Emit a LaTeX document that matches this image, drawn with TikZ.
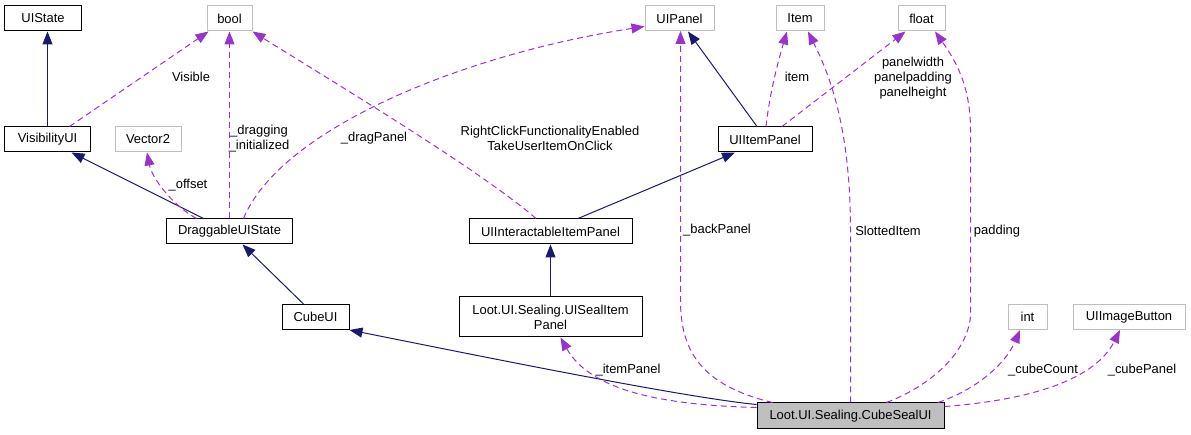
\documentclass[tikz,border=0pt]{standalone}
\usepackage{fontspec}
\setmainfont{Liberation Sans}
\usetikzlibrary{arrows.meta}

\definecolor{inhblue}{HTML}{191970}
\definecolor{usepurple}{HTML}{9A32CD}
\definecolor{boxgray}{HTML}{BFBFBF}

\begin{document}
\begin{tikzpicture}[x=1bp, y=-1bp,
		every node/.style={font=\fontsize{13}{15}\selectfont},
		cls/.style={draw=black, line width=1bp, minimum height=25bp, inner sep=0pt},
		ext/.style={draw=boxgray, line width=1bp, minimum height=25bp, inner sep=0pt},
		inherit/.style={draw=inhblue, line width=1bp, -{Triangle[length=13bp,width=10bp]}},
		uses/.style={draw=usepurple, line width=1bp, dash pattern=on 6bp off 4bp, -{Triangle[length=13bp,width=10bp]}},
		lbl/.style={align=center, inner sep=0pt}]
		\useasboundingbox (0,0) rectangle (1191,435);
		
		% top row
		\node[cls, minimum width=76bp] (uistate) at (43,18.5) {UIState};
		\node[ext, minimum width=45bp] (bool) at (229.5,18.5) {bool};
		\node[ext, minimum width=69bp] (uipanel) at (679.5,18.5) {UIPanel};
		\node[ext, minimum width=48bp] (item) at (800,18.5) {Item};
		\node[ext, minimum width=47bp] (float) at (921.5,18.5) {float};
		
		\node[cls, minimum width=85bp] (vis) at (47.5,139.5) {VisibilityUI};
		\node[ext, minimum width=66bp] (vector2) at (148,139.5) {Vector2};
		\node[cls, minimum width=94bp] (itempanel) at (765,139.5) {UIItemPanel};
		
		\node[cls, minimum width=126bp] (drag) at (229.5,231.5) {DraggableUIState};
		\node[cls, minimum width=163bp] (interact) at (550.5,231.5) {UIInteractableItemPanel};
		
		\node[cls, minimum width=67bp] (cubeui) at (315.5,317) {CubeUI};
		\node[cls, minimum width=183bp, minimum height=40bp, align=center] (sealitem) at (550.5,317) {Loot.UI.Sealing.UISealItem\\Panel};
		\node[ext, minimum width=39bp] (int) at (1027.5,317) {int};
		\node[ext, minimum width=112bp] (button) at (1129,317) {UIImageButton};
		
		% the class itself
		\node[cls, fill=boxgray, minimum width=187bp, minimum height=26bp] (seal) at (850.5,416) {Loot.UI.Sealing.CubeSealUI};
		
		% inheritance
		\draw[inherit] (vis.north) -- (vis.north |- uistate.south);
		\draw[inherit] ([xshift=-26bp]drag.north) -- ([xshift=24bp]vis.south);
		\draw[inherit] ([xshift=-12bp]cubeui.north) -- ([xshift=13bp]drag.south);
		\draw[inherit] ([yshift=-2bp]seal.north west) .. controls (680,397) and (470,354) .. (cubeui.south east);
		\draw[inherit] (sealitem) -- (interact);
		\draw[inherit] ([xshift=27.5bp]interact.north) -- ([xshift=-30bp]itempanel.south);
		\draw[inherit] ([xshift=-8bp]itempanel.north) -- ([xshift=8.5bp]uipanel.south);
		
		% members
		\draw[uses] ([xshift=22bp]vis.north) -- ([xshift=2bp]bool.south west);
		\node[lbl] (lvisible) at (191,77) {Visible};
		
		\draw[uses] ([xshift=-33bp]drag.north) .. controls (172,205) and (152,178) .. ([xshift=-1bp]vector2.south);
		\node[lbl] (loffset) at (188,185) {\_offset};
		
		\draw[uses] (drag.north) -- (bool.south);
		\node[lbl] (ldragging) at (259,139) {\_dragging\\\_initialized};
		
		\draw[uses] ([xshift=14bp]drag.north) .. controls (280,130) and (460,55) .. ([yshift=-8bp]uipanel.west);
		\node[lbl] (ldragpanel) at (374,138) {\_dragPanel};
		
		\draw[uses] ([xshift=-14.5bp]interact.north) .. controls (480,170) and (330,80) .. (bool.south east);
		\node[lbl] (lrightclick) at (550,138.5) {RightClickFunctionalityEnabled\\TakeUserItemOnClick};
		
		\draw[uses] ([xshift=16bp]seal.north west) .. controls (700,385) and (680.5,350) .. (680.5,300) -- (680.5,31);
		\node[lbl] (lbackpanel) at (717,230) {\_backPanel};
		
		\draw[uses] ([xshift=1bp]itempanel.north) .. controls (770,90) and (780,55) .. ([xshift=-13bp]item.south);
		\node[lbl] (litem) at (797,77) {item};
		
		\draw[uses] ([xshift=17bp]itempanel.north) -- ([xshift=-16bp]float.south);
		\node[lbl] (lpanel) at (913,78) {panelwidth\\panelpadding\\panelheight};
		
		\draw[uses] (seal.north) -- (850.5,230) .. controls (850.5,120) and (826,68) .. ([xshift=8bp]item.south);
		\node[lbl] (lslotted) at (888,231) {SlottedItem};
		
		\draw[uses] ([xshift=36bp]seal.north) .. controls (920,390) and (965.5,360) .. (970.5,317) -- (970.5,130) .. controls (970.5,85) and (955,60) .. ([xshift=13.5bp]float.south);
		\node[lbl] (lpadding) at (997,231) {padding};
		
		\draw[uses] ([xshift=87.5bp]seal.north) .. controls (975,390) and (1005,365) .. ([xshift=-7.5bp]int.south);
		\node[lbl] (lcubecount) at (1043,370) {\_cubeCount};
		
		\draw[uses] ([yshift=-4bp]seal.north east) .. controls (1030,400) and (1095,380) .. ([xshift=-9bp]button.south);
		\node[lbl] (lcubepanel) at (1142,370) {\_cubePanel};
		
		\draw[uses] ([yshift=-5bp]seal.north west) .. controls (660,405) and (590,390) .. ([xshift=10bp]sealitem.south);
		\node[lbl] (litempanel) at (628,370) {\_itemPanel};
	\end{tikzpicture}
\end{document}
